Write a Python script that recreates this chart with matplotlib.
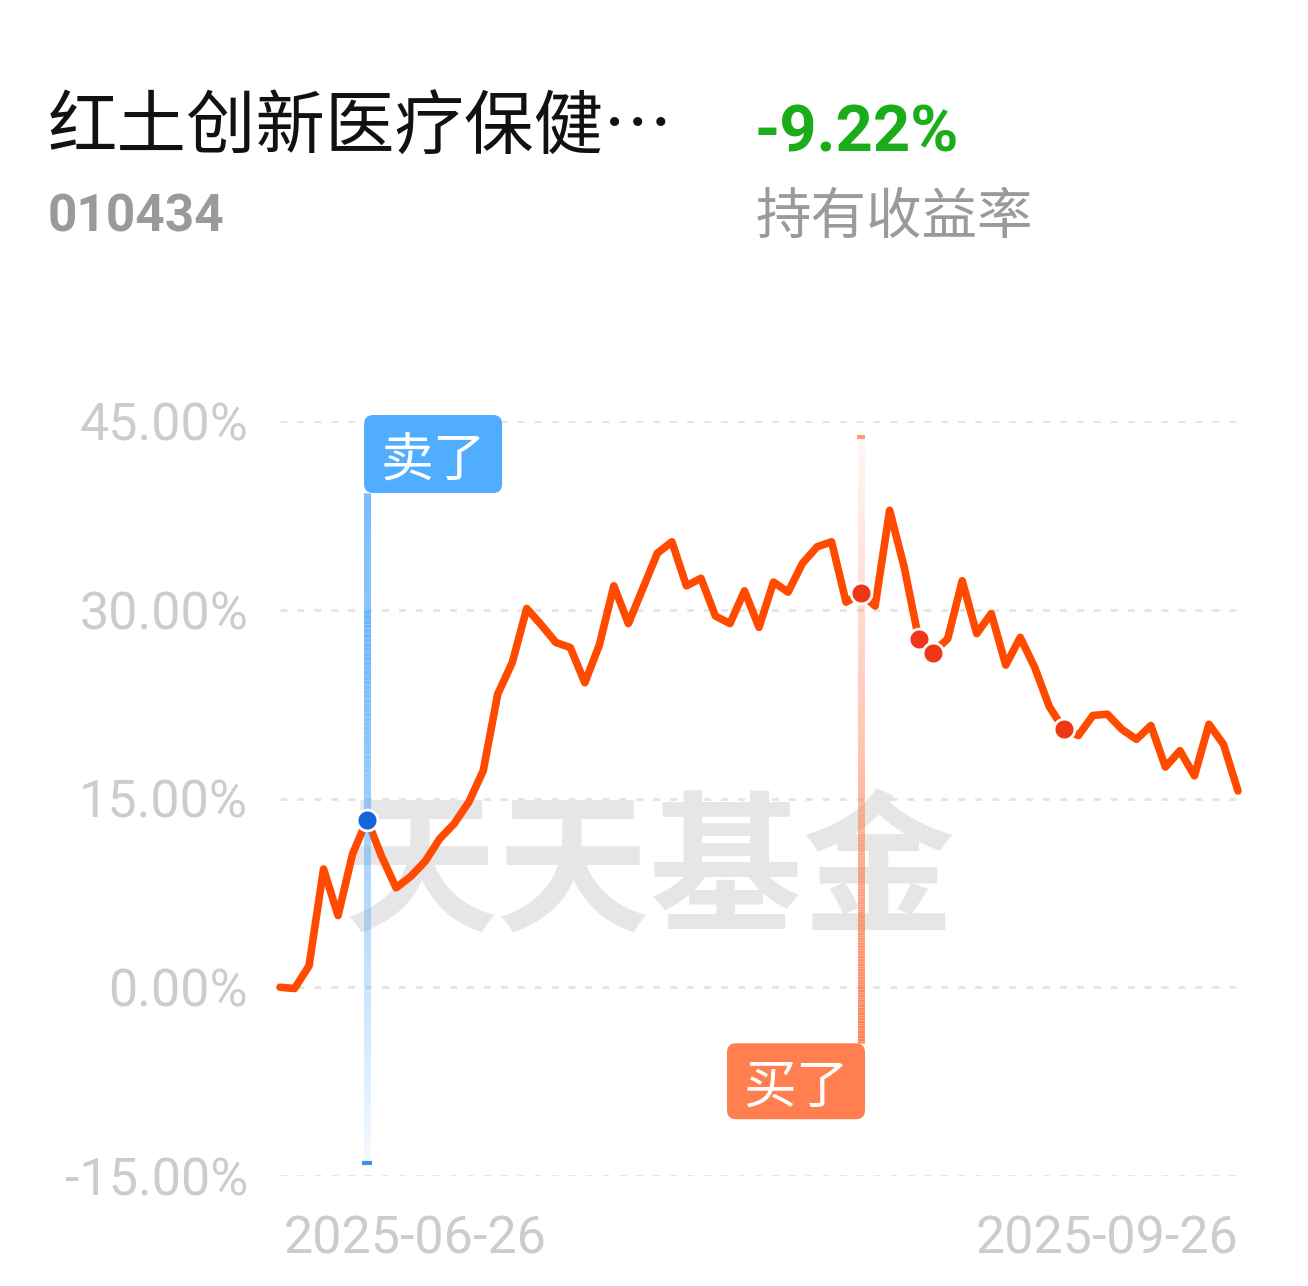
#!/usr/bin/env python3

import numpy as np
import pandas as pd
import matplotlib
matplotlib.use("Agg")
import matplotlib.pyplot as plt
import matplotlib.transforms as mtransforms
from matplotlib import font_manager
from matplotlib.patches import FancyBboxPatch
from matplotlib.collections import LineCollection
from matplotlib.colors import to_rgba


##### data #####
FUND_NAME = "红土创新医疗保健…"
FUND_CODE = "010434"
HOLD_RETURN = "-9.22%"
HOLD_RETURN_LABEL = "持有收益率"
WATERMARK = "天天基金"

# trading days 2025-06-26 .. 2025-09-26
DATES = pd.bdate_range("2025-06-26", "2025-09-26")

# holding return (%)
RETURNS = [
    0.0, -0.1, 1.7, 9.4, 5.7, 10.6, 13.3, 10.4, 7.9, 8.8,
    10.0, 11.8, 13.0, 14.7, 17.2, 23.3, 25.8, 30.1, 28.8, 27.4,
    27.0, 24.2, 27.2, 31.9, 28.9, 31.7, 34.5, 35.4, 31.9, 32.5,
    29.5, 28.9, 31.5, 28.6, 32.2, 31.4, 33.7, 35.0, 35.4, 30.6,
    31.3, 30.3, 37.9, 33.4, 27.7, 26.6, 27.7, 32.3, 28.1, 29.7,
    25.6, 27.8, 25.4, 22.3, 20.5, 20.0, 21.6, 21.7, 20.5, 19.7,
    20.8, 17.5, 18.8, 16.8, 20.9, 19.3, 15.6,
]

SELL_IDX = [6]
BUY_IDX = [40, 44, 45, 54]
SELL_FLAG = (6, "卖了")
BUY_FLAG = (40, "买了")

Y_TICKS = [-15, 0, 15, 30, 45]


##### fonts #####
names = {f.name for f in font_manager.fontManager.ttflist}
NUM_FONT = "Roboto" if "Roboto" in names else "DejaVu Sans"
CJK_FONT = ["Noto Sans CJK SC", "DejaVu Sans"]

plt.rcParams["font.family"] = CJK_FONT

##### colors #####
LINE_COLOR = "#ff4a00"
BUY_DOT = "#ef3616"
SELL_DOT = "#1565d8"
SELL_BLUE = "#4fa9fb"
BUY_ORANGE = "#ff7f50"
GRID_COLOR = "#e4e4e4"
TICK_COLOR = "#cccccc"

W, H = 1308, 1286
fig = plt.figure(figsize=(W / 100, H / 100), dpi=100)
fig.patch.set_facecolor("white")

ax = fig.add_axes([280 / W, 1 - 1176 / H, 958 / W, (1176 - 421) / H])
x = np.arange(len(RETURNS))
y = np.array(RETURNS)

ax.set_xlim(0, len(x) - 1)
ax.set_ylim(-15, 45)
for s in ax.spines.values():
    s.set_visible(False)

##### grid #####
for v in Y_TICKS:
    ax.axhline(v, color=GRID_COLOR, lw=2, ls=(0, (2.5, 3.6)), zorder=0)

ax.set_yticks(Y_TICKS)
ax.set_yticklabels([f"{v:.2f}%" for v in Y_TICKS], fontfamily=NUM_FONT)
ax.tick_params(axis="y", length=0, pad=23, labelsize=37.5, labelcolor=TICK_COLOR)
ax.set_xticks([])

# first / last date
ax.annotate(DATES[0].strftime("%Y-%m-%d"), xy=(0, -15), xytext=(4, -63),
            textcoords="offset pixels", ha="left", va="center",
            fontsize=37.5, color=TICK_COLOR, fontfamily=NUM_FONT)
ax.annotate(DATES[-1].strftime("%Y-%m-%d"), xy=(len(x) - 1, -15), xytext=(0, -63),
            textcoords="offset pixels", ha="right", va="center",
            fontsize=37.5, color=TICK_COLOR, fontfamily=NUM_FONT)

##### watermark #####
ax.text(25.5, 8.9, WATERMARK, ha="center", va="center", fontsize=110,
        fontweight="bold", color="#e6e6e6", zorder=1)

##### main line #####
ax.plot(x, y, color=LINE_COLOR, lw=5.5, solid_joinstyle="round",
        solid_capstyle="round", zorder=3, clip_on=False)


def px_trans(xd, yd):
    # pixel offsets around a data point
    return mtransforms.ScaledTranslation(xd, yd, ax.transData)


def gradient_line(xd, y0, y1, color, a0, a1, lw):
    ys = np.linspace(y0, y1, 120)
    segs = [[(xd, ys[i]), (xd, ys[i + 1])] for i in range(len(ys) - 1)]
    alphas = np.linspace(a0, a1, len(segs))
    base = np.array(to_rgba(color))
    cols = [(*base[:3], a) for a in alphas]
    lc = LineCollection(segs, colors=cols, linewidths=lw, zorder=4, clip_on=False)
    ax.add_collection(lc)


px_per_unit = (1176 - 421) / 60.0

##### sell flag #####
si, stext = SELL_FLAG
box_bottom = 45 - 72 / px_per_unit
gradient_line(si, -14, 30, SELL_BLUE, 0.06, 0.85, 5)
gradient_line(si, 30, box_bottom, SELL_BLUE, 0.85, 1.0, 5)
ax.plot(si, -14, marker="_", ms=7, mew=3, color="#3f8ee8", zorder=4, clip_on=False)
ax.add_patch(FancyBboxPatch((-3, -72), 138, 78,
                            boxstyle="round,pad=0,rounding_size=9",
                            fc="#50adff", ec="none", zorder=5,
                            transform=px_trans(si, 45), clip_on=False))
ax.text(66, -40, stext, ha="center", va="center", color="white", fontsize=38,
        transform=px_trans(si, 45), zorder=6)

##### buy flag #####
bi, btext = BUY_FLAG
box_top = -56 / px_per_unit
gradient_line(bi, 43.7, 20, BUY_ORANGE, 0.05, 0.45, 5)
gradient_line(bi, 20, box_top, BUY_ORANGE, 0.45, 1.0, 5)
ax.plot(bi, 43.7, marker="_", ms=6, mew=3, color="#ff9a78", zorder=4, clip_on=False)
ax.add_patch(FancyBboxPatch((-133.6, -132), 138, 76,
                            boxstyle="round,pad=0,rounding_size=9",
                            fc=BUY_ORANGE, ec="none", zorder=5,
                            transform=px_trans(bi, 0), clip_on=False))
ax.text(-64.6, -100, btext, ha="center", va="center", color="white", fontsize=38,
        transform=px_trans(bi, 0), zorder=6)

##### trade dots #####
ax.plot(x[BUY_IDX], y[BUY_IDX], "o", ms=15, color=BUY_DOT, mec="white", mew=2,
        zorder=7, clip_on=False)
ax.plot(x[SELL_IDX], y[SELL_IDX], "o", ms=15, color=SELL_DOT, mec="white", mew=2,
        zorder=7, clip_on=False)

##### header #####
fig.text(48 / W, 1 - 128 / H, FUND_NAME, ha="left", va="center",
         fontsize=50, color="#111111", fontweight="medium")
fig.text(48 / W, 1 - 232 / H, FUND_CODE, ha="left", va="baseline",
         fontsize=37, color="#9a9a9a", fontweight="bold", fontfamily=NUM_FONT)
fig.text(755 / W, 1 - 152 / H, HOLD_RETURN, ha="left", va="baseline",
         fontsize=47, color="#1aad19", fontweight="bold", fontfamily=NUM_FONT)
fig.text(755 / W, 1 - 218 / H, HOLD_RETURN_LABEL, ha="left", va="center",
         fontsize=40, color="#9a9a9a")

fig.savefig("out.png", dpi=100, facecolor="white")
